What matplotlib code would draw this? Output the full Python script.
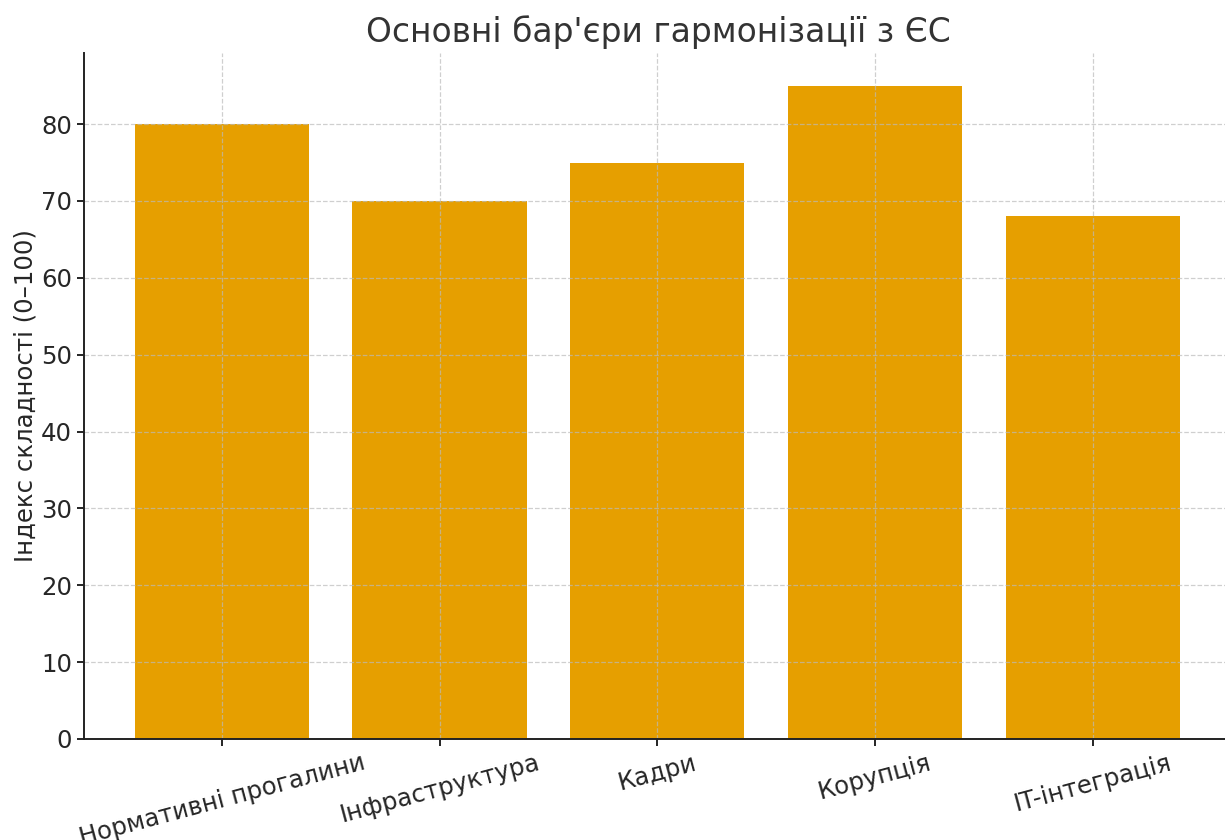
import matplotlib
matplotlib.use("Agg")
import matplotlib.pyplot as plt

categories = ["Нормативні прогалини", "Інфраструктура", "Кадри", "Корупція", "IT-інтеграція"]
values = [80, 70, 75, 85, 68]
title = "Основні бар'єри гармонізації з ЄС"
ylabel = "Індекс складності (0–100)"

plt.rcParams['font.family'] = ['DejaVu Sans']
fig = plt.figure(figsize=(12.25, 8.4), dpi=100)
ax = fig.add_axes([84/1225, 1 - 739/840, (1232-84)/1225, (739-53)/840])
ax.bar(range(len(categories)), values, width=0.8, color="#E69F00")
ax.set_xlim(-0.633, 4.64)
ax.set_ylim(0, 89.25)
ax.set_xticks(range(len(categories)))
ax.set_xticklabels(categories, rotation=15, fontsize=17.6, color="#262626")
ax.tick_params(axis='y', labelsize=17.6, labelcolor="#262626")
ax.tick_params(axis='both', length=5, width=1.2)
ax.set_ylabel(ylabel, fontsize=17.6, color="#262626", labelpad=3)
ax.set_title(title, fontsize=23.7, color="#333333", pad=8)
ax.grid(True, linestyle='--', color='#bbbbbb', alpha=0.7, linewidth=0.9)
for s in ['top', 'right']:
    ax.spines[s].set_visible(False)
for s in ['left', 'bottom']:
    ax.spines[s].set_linewidth(1.4)
    ax.spines[s].set_color('#222222')
fig.savefig("out.png", dpi=100)
